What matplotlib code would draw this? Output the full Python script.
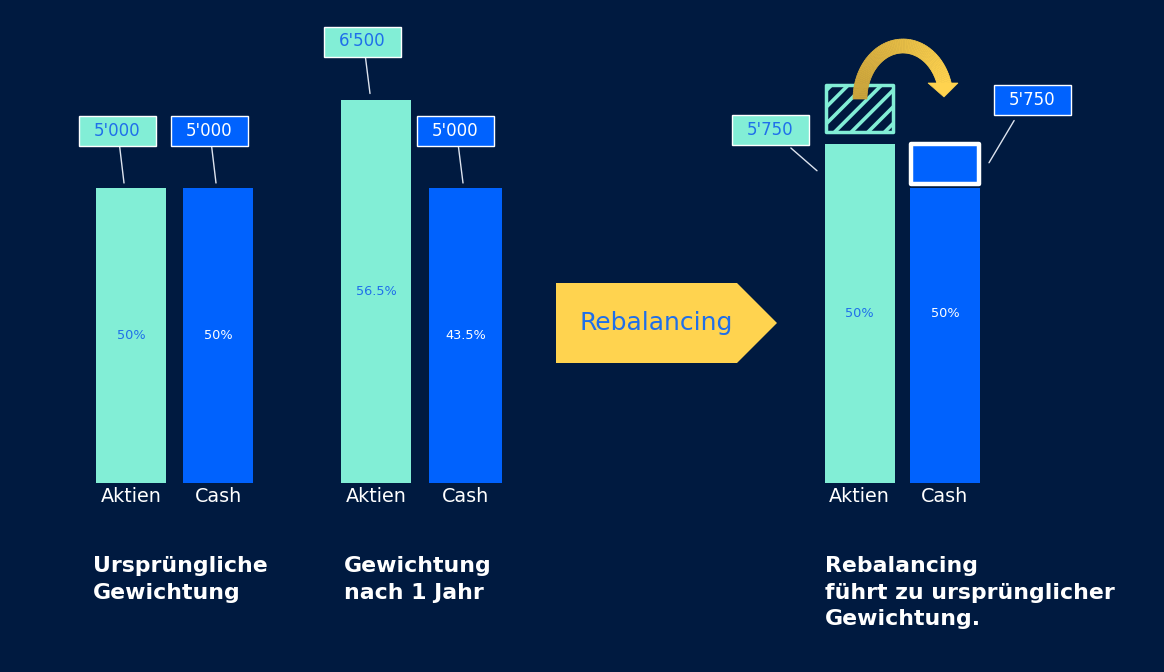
import matplotlib
matplotlib.use("Agg")
import matplotlib.pyplot as plt
import numpy as np
from matplotlib.path import Path
from matplotlib.patches import Polygon

# data
groups = ["Ursprüngliche\nGewichtung", "Gewichtung\nnach 1 Jahr",
          "Rebalancing\nführt zu ursprünglicher\nGewichtung."]
categories = ["Aktien", "Cash"]
aktien = [5000, 6500, 5750]
cash = [5000, 5000, 5750]
aktien_pct = ["50%", "56.5%", "50%"]
cash_pct = ["50%", "43.5%", "50%"]
shift = aktien[1] - aktien[2]  # moved from Aktien to Cash

# style
BG = "#001A40"
TEAL = "#82EED6"
BLUE = "#0062FE"
TXT_BLUE = "#1F6FEA"
GOLD = "#FFD34F"
FONT = "DejaVu Sans"

W, H = 1164, 672
BASE_PX = 483
PX_PER_UNIT = 0.059


def py(y):
    # pixel row -> value axis
    return (BASE_PX - y) / PX_PER_UNIT


fig = plt.figure(figsize=(W / 100, H / 100), dpi=100, facecolor=BG)
ax = fig.add_axes([0, 0, 1, 1])
ax.set_facecolor(BG)
ax.set_xlim(0, W)
ax.set_ylim(py(H), py(0))
ax.axis("off")

x_aktien = [131, 376, 859.5]
x_cash = [218, 465.5, 945]
bar_w = [70, 70, 70]
cash_w = [70, 73, 70]

# bars
for i in range(3):
    ax.bar(x_aktien[i], aktien[i], width=bar_w[i], color=TEAL)
    base_cash = cash[i] - shift if i == 2 else cash[i]
    ax.bar(x_cash[i], base_cash, width=cash_w[i], color=BLUE)

# rebalanced cash top: outlined box
ax.bar(x_cash[2], shift - 60, bottom=cash[2] - shift + 60, width=cash_w[2] - 2,
       facecolor=BLUE, edgecolor="white", linewidth=3.2, joinstyle="round")

# hatched part removed from Aktien
plt.rcParams["hatch.linewidth"] = 2.6
ax.bar(x_aktien[2], shift + 40, bottom=aktien[2] + 200, width=bar_w[2] - 3,
       facecolor=BG, edgecolor=TEAL, hatch="//", linewidth=2.5, joinstyle="round")

# percentages inside bars
for i in range(3):
    ax.text(x_aktien[i], aktien[i] / 2, aktien_pct[i], color=TXT_BLUE, fontsize=9.3,
            family=FONT, ha="center", va="center")
    ax.text(x_cash[i], cash[i] / 2, cash_pct[i], color="white", fontsize=9.3,
            family=FONT, ha="center", va="center")

# category labels
for i in range(3):
    ax.text(x_aktien[i], py(497), categories[0], color="white", fontsize=13.8,
            family=FONT, ha="center", va="center")
    ax.text(x_cash[i], py(497), categories[1], color="white", fontsize=13.8,
            family=FONT, ha="center", va="center")


def fixed_box(x0, y0, width, height, mutation_size):
    cx, cy = x0 + width / 2, y0 + height / 2
    bw, bh = 77, 30
    l, r, b, t = cx - bw / 2, cx + bw / 2, cy - bh / 2, cy + bh / 2
    return Path([(l, b), (r, b), (r, t), (l, t), (l, b)],
                [Path.MOVETO, Path.LINETO, Path.LINETO, Path.LINETO, Path.CLOSEPOLY])


def fmt(v):
    return f"{v:,}".replace(",", "'")


# value labels: (x, value, tip dx, tip dy, box dx, box dy, relpos, shrinkA, fill, text colour)
labels = [
    (x_aktien[0], aktien[0], -7, 5, -7, 52, 0.54, 0, TEAL, TXT_BLUE),
    (x_cash[0], cash[0], -2, 5, -7, 52, 0.54, 0, BLUE, "white"),
    (x_aktien[1], aktien[1], -6, 6, -7.5, 52, 0.545, 0, TEAL, TXT_BLUE),
    (x_cash[1], cash[1], -2.5, 5, -7.5, 52, 0.545, 0, BLUE, "white"),
    (x_aktien[2], aktien[2], -42.5, -27, -47, 41, 0.72, 3, TEAL, TXT_BLUE),
    (x_cash[2], cash[2], 44, -19, 43.5, 62.5, 0.25, 4, BLUE, "white"),
]
for x, v, tdx, tdy, bdx, bdy, rp, sa, fc, tc in labels:
    ax.annotate(fmt(v), xy=(x + tdx, v + tdy / PX_PER_UNIT), xytext=(bdx, bdy),
                textcoords="offset pixels", ha="center", va="center",
                color=tc, fontsize=12, family=FONT,
                bbox=dict(boxstyle=fixed_box, fc=fc, ec="white", lw=1),
                arrowprops=dict(arrowstyle="-", color="#DDE3EE", lw=1,
                                relpos=(rp, 0), shrinkA=sa, shrinkB=0))

# Rebalancing arrow shape
ax.add_patch(Polygon([(556, py(283)), (737, py(283)), (777, py(323)),
                      (737, py(363)), (556, py(363))], closed=True,
                     facecolor=GOLD, edgecolor="none"))
ax.text(656, py(323), "Rebalancing", color=TXT_BLUE, fontsize=18, family=FONT,
        ha="center", va="center")

# curved gold arrow
cx, cy = 903, 99
t = np.linspace(np.pi, 0.25, 80)
c0 = np.array([0xC9, 0xA2, 0x3A]) / 255
c1 = np.array([0xFF, 0xD3, 0x4F]) / 255
for k in range(len(t) - 1):
    a, b = t[k], t[k + 1]
    quad = [(cx + 50 * np.cos(a), py(cy - 60 * np.sin(a))),
            (cx + 50 * np.cos(b), py(cy - 60 * np.sin(b))),
            (cx + 36 * np.cos(b), py(cy - 46 * np.sin(b))),
            (cx + 36 * np.cos(a), py(cy - 46 * np.sin(a)))]
    f = k / (len(t) - 2)
    ax.add_patch(Polygon(quad, closed=True, facecolor=c0 * (1 - f) + c1 * f,
                         edgecolor=c0 * (1 - f) + c1 * f, lw=0.5))
ax.add_patch(Polygon([(928, py(83)), (958, py(83)), (944, py(97))], closed=True,
                     facecolor=GOLD, edgecolor=GOLD, lw=0.5))

# group titles
title_x = [93, 344, 825]
for i in range(3):
    ax.text(title_x[i], py(556), groups[i], color="white", fontsize=15.8,
            fontweight="bold", family=FONT, ha="left", va="top", linespacing=1.42)

fig.savefig("out.png", dpi=100, facecolor=BG)
